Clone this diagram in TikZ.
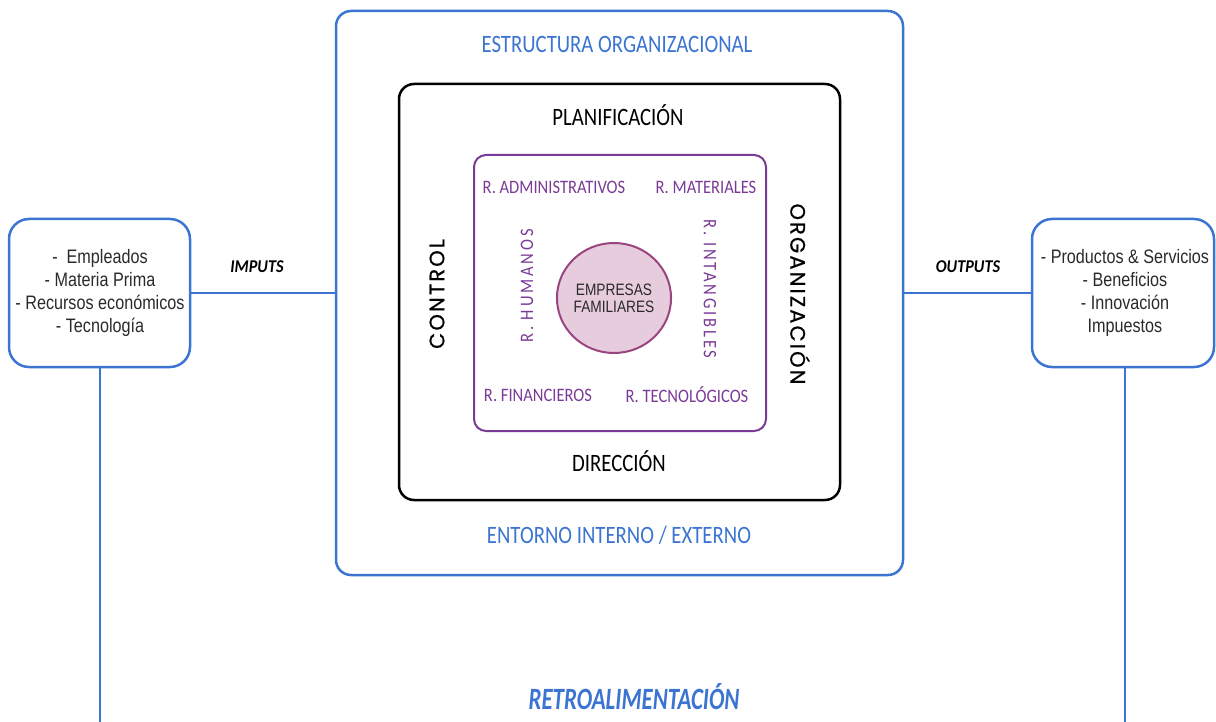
\documentclass[tikz,border=0pt]{standalone}
\usetikzlibrary{shapes.geometric}
\usepackage{fontspec}
\setmainfont{Carlito}
\newfontfamily\narrowfont[FakeStretch=0.83]{Liberation Sans}
\newfontfamily\geofont[LetterSpace=10,FakeBold=0.6]{Poppins}
\newfontfamily\titlefont[FakeStretch=0.83]{Carlito}
\newfontfamily\resfont[FakeStretch=0.87]{Carlito}
\newfontfamily\resspfont[FakeStretch=0.87,LetterSpace=15]{Carlito}
\newfontfamily\flowfont[FakeStretch=0.9]{Carlito}
\newfontfamily\retrofont[FakeStretch=0.74]{Carlito}
\definecolor{bblue}{HTML}{3B74D1}
\definecolor{ppurple}{HTML}{7A3A97}
\definecolor{pfill}{HTML}{E6CCDC}
\definecolor{pborder}{HTML}{9A4580}
\definecolor{dgray}{HTML}{2A2A2A}
\tikzset{
  bluebox/.style={draw=bblue, line width=2.5pt, rounded corners=15pt, inner sep=0pt},
  blackbox/.style={draw=black, line width=2.5pt, rounded corners=15pt, inner sep=0pt},
  purplebox/.style={draw=ppurple, line width=2pt, rounded corners=12pt, inner sep=0pt},
  sidebox/.style={draw=bblue, line width=2.5pt, rounded corners=20pt, inner sep=0pt},
  link/.style={draw=bblue, line width=2.5pt},
  bluetxt/.style={text=bblue, font=\titlefont\fontsize{25}{28}\selectfont, inner sep=0pt},
  blacktxt/.style={text=black, font=\titlefont\fontsize{25}{28}\selectfont, inner sep=0pt},
  sidetxt/.style={text=black, font=\geofont\fontsize{21}{24}\selectfont, inner sep=0pt},
  restxt/.style={text=ppurple, font=\resfont\fontsize{19}{22}\selectfont, inner sep=0pt},
  resvtxt/.style={text=ppurple, font=\resspfont\fontsize{19}{22}\selectfont, inner sep=0pt},
  listtxt/.style={text=dgray, align=center, font=\narrowfont\fontsize{19.5}{23}\selectfont, inner sep=0pt},
  flowtxt/.style={text=black, font=\flowfont\bfseries\itshape\fontsize{18}{20}\selectfont, inner sep=0pt},
}
\begin{document}
\begin{tikzpicture}[x=1pt,y=-1pt]
\useasboundingbox (0,0) rectangle (1216,722);
% boxes
\node[bluebox, minimum width=567pt, minimum height=564pt] (outer) at (619.5,293) {};
\node[blackbox, minimum width=441pt, minimum height=416pt] (mid) at (619.5,292) {};
\node[purplebox, minimum width=292pt, minimum height=276pt] (inner) at (620,293) {};
\node[draw=pborder, fill=pfill, line width=2pt, ellipse, minimum width=114pt, minimum height=110pt, inner sep=0pt,
      align=center, text=dgray, font=\narrowfont\fontsize{16.5}{17}\selectfont] (core) at (614,298) {EMPRESAS\\FAMILIARES};
\node[sidebox, minimum width=181pt, minimum height=148pt] (left) at (99.5,293) {};
\node[sidebox, minimum width=182pt, minimum height=148pt] (right) at (1123,293) {};
% outer labels
\node[bluetxt] (estr) at (617,44) {ESTRUCTURA ORGANIZACIONAL};
\node[bluetxt] (ent) at (619,535) {ENTORNO INTERNO / EXTERNO};
% middle labels
\node[blacktxt] (plan) at (618,115) {PLANIFICACIÓN};
\node[blacktxt] (dir) at (619,461) {DIRECCIÓN};
\node[sidetxt, rotate=90] (ctrl) at (437,294) {CONTROL};
\node[sidetxt, rotate=-90] (org) at (800,294) {ORGANIZACIÓN};
% resources
\node[restxt] (radm) at (554,187) {R. ADMINISTRATIVOS};
\node[restxt] (rmat) at (706,187) {R. MATERIALES};
\node[restxt] (rfin) at (538,395) {R. FINANCIEROS};
\node[restxt] (rtec) at (687,395) {R. TECNOLÓGICOS};
\node[resvtxt, rotate=90] (rhum) at (527,286) {R. HUMANOS};
\node[resvtxt, rotate=-90] (rint) at (710,289) {R. INTANGIBLES};
% side texts
\node[listtxt] (ltxt) at (100,293) {-\ \ Empleados\\- Materia Prima\\- Recursos económicos\\- Tecnología};
\node[listtxt] (rtxt) at (1125,293) {- Productos \& Servicios\\- Beneficios\\- Innovación\\Impuestos};
% connectors
\draw[link] (left.east) -- (outer.west);
\draw[link] (outer.east) -- (right.west);
\coordinate (lend) at (100,722);
\coordinate (rend) at (1125,722);
\draw[link] (left.south -| lend) -- (lend);
\draw[link] (right.south -| rend) -- (rend);
\node[flowtxt] (imp) at (257,267) {IMPUTS};
\node[flowtxt] (outp) at (968,267) {OUTPUTS};
\node[text=bblue, font=\retrofont\bfseries\itshape\fontsize{31}{34}\selectfont, inner sep=0pt] (retro) at (634,697) {RETROALIMENTACIÓN};
\end{tikzpicture}
\end{document}
